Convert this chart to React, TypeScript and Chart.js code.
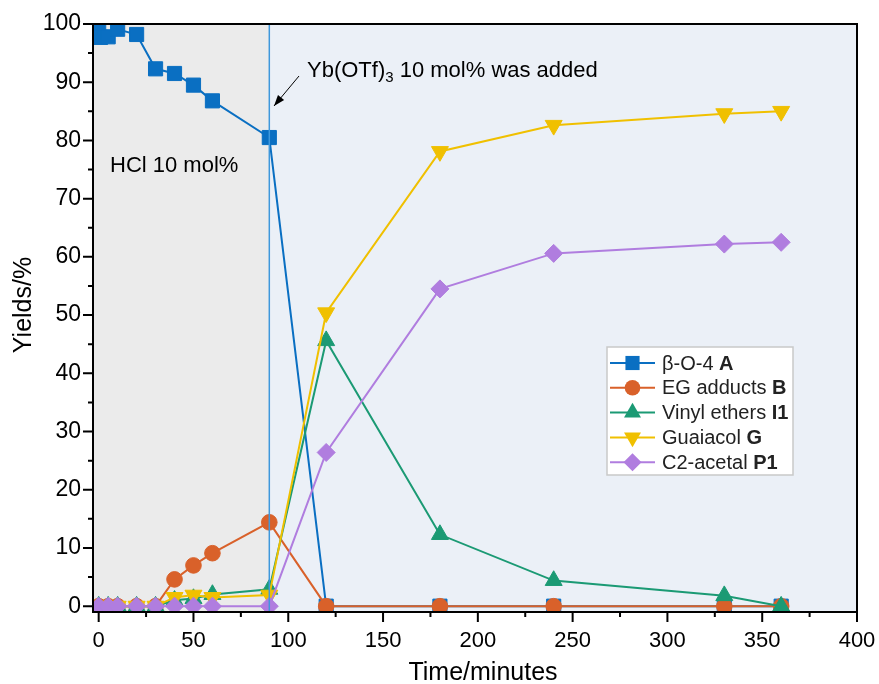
import React, { useEffect, useRef } from 'react';
import { Chart, registerables } from 'chart.js';

Chart.register(...registerables);

// ---- data ----
const timeA = [0, 1, 5, 10, 20, 30, 40, 50, 60, 90, 120, 180, 240, 330, 360];
const yieldA = [99.3, 97.7, 97.8, 99.1, 98.2, 92.3, 91.5, 89.5, 86.8, 80.5, 0, 0, 0, 0, 0];

const timeCommon = [0, 5, 10, 20, 30, 40, 50, 60, 90, 120, 180, 240, 330, 360];
const yieldB = [0, 0, 0, 0, 0, 4.6, 7.0, 9.1, 14.4, 0, 0, 0, 0, 0];
const yieldI1 = [0, 0, 0, 0, 0, 1.0, 1.3, 2.0, 2.9, 45.6, 12.3, 4.4, 1.8, 0];
const yieldG = [0, 0, 0, 0, 0, 1.5, 1.9, 1.5, 1.9, 50.4, 78.1, 82.6, 84.6, 85.0];
const yieldP1 = [0, 0, 0, 0, 0, 0, 0, 0, 0, 26.4, 54.5, 60.6, 62.2, 62.5];

const seriesNames = ['β-O-4', 'EG adducts', 'Vinyl ethers', 'Guaiacol', 'C2-acetal'];
const seriesTags = ['A', 'B', 'I1', 'G', 'P1'];
const seriesColors = ['#0a6fc2', '#d9612a', '#1b9a74', '#f0c000', '#b07ddf'];

const xTickValues = [0, 50, 100, 150, 200, 250, 300, 350, 400];
const yTickValues = [0, 10, 20, 30, 40, 50, 60, 70, 80, 90, 100];
const additionTime = 90;

const FONT = '"Liberation Sans", Arial, Helvetica, sans-serif';

function pts(xs: number[], ys: number[]) {
  return xs.map((x, i) => ({ x, y: ys[i] }));
}

function drawMarker(ctx: CanvasRenderingContext2D, style: string, x: number, y: number, r: number, rot: number) {
  ctx.beginPath();
  if (style === 'rect') {
    const s = r * Math.SQRT1_2;
    ctx.rect(x - s, y - s, 2 * s, 2 * s);
  } else if (style === 'circle') {
    ctx.arc(x, y, r, 0, Math.PI * 2);
  } else if (style === 'triangle') {
    let a = (rot * Math.PI) / 180;
    ctx.moveTo(x + Math.sin(a) * r, y - Math.cos(a) * r);
    a += (2 * Math.PI) / 3;
    ctx.lineTo(x + Math.sin(a) * r, y - Math.cos(a) * r);
    a += (2 * Math.PI) / 3;
    ctx.lineTo(x + Math.sin(a) * r, y - Math.cos(a) * r);
    ctx.closePath();
  } else if (style === 'rectRot') {
    ctx.moveTo(x, y - r);
    ctx.lineTo(x + r, y);
    ctx.lineTo(x, y + r);
    ctx.lineTo(x - r, y);
    ctx.closePath();
  }
  ctx.fill();
}

const decorPlugin = {
  id: 'decor',
  beforeDatasetsDraw(chart: any) {
    const { ctx, chartArea: a, scales } = chart;
    const xs = scales.x;
    const px = xs.getPixelForValue(additionTime);
    ctx.save();
    ctx.fillStyle = '#ebebeb';
    ctx.fillRect(a.left, a.top, px - a.left, a.bottom - a.top);
    ctx.fillStyle = '#ebf0f7';
    ctx.fillRect(px, a.top, a.right - px, a.bottom - a.top);
    ctx.restore();
  },
  afterDatasetsDraw(chart: any) {
    const { ctx, chartArea: a, scales } = chart;
    const xs = scales.x;
    const ys = scales.y;
    const px = xs.getPixelForValue(additionTime);
    ctx.save();
    // vertical line
    ctx.strokeStyle = '#3f98dc';
    ctx.lineWidth = 1.5;
    ctx.beginPath();
    ctx.moveTo(px, a.top);
    ctx.lineTo(px, a.bottom);
    ctx.stroke();

    // frame
    ctx.strokeStyle = '#000';
    ctx.lineWidth = 2;
    ctx.strokeRect(a.left, a.top, a.right - a.left, a.bottom - a.top);

    // ticks
    ctx.beginPath();
    xs.ticks.forEach((t: any) => {
      const p = xs.getPixelForValue(t.value);
      const len = t.value % 50 === 0 ? 10 : 5;
      ctx.moveTo(p, a.bottom);
      ctx.lineTo(p, a.bottom + len);
    });
    ys.ticks.forEach((t: any) => {
      const p = ys.getPixelForValue(t.value);
      const len = t.value % 10 === 0 ? 10 : 5;
      ctx.moveTo(a.left - len, p);
      ctx.lineTo(a.left, p);
    });
    ctx.stroke();

    // axis titles
    ctx.fillStyle = '#000';
    ctx.font = `25px ${FONT}`;
    ctx.textAlign = 'center';
    ctx.textBaseline = 'alphabetic';
    ctx.fillText('Time/minutes', (a.left + a.right) / 2 + 8, 680);
    ctx.save();
    ctx.translate(31, 305);
    ctx.rotate(-Math.PI / 2);
    ctx.fillText('Yields/%', 0, 0);
    ctx.restore();

    // annotations
    ctx.textAlign = 'left';
    ctx.font = `22px ${FONT}`;
    ctx.fillText('HCl 10 mol%', 110, 172);
    let tx = 307;
    const ty = 77;
    ctx.fillText('Yb(OTf)', tx, ty);
    tx += ctx.measureText('Yb(OTf)').width;
    ctx.font = `15px ${FONT}`;
    ctx.fillText('3', tx, ty + 5);
    tx += ctx.measureText('3').width;
    ctx.font = `22px ${FONT}`;
    ctx.fillText(' 10 mol% was added', tx, ty);

    // arrow
    const ax1 = 299, ay1 = 76, ax2 = 274, ay2 = 106;
    ctx.strokeStyle = '#000';
    ctx.lineWidth = 1;
    ctx.beginPath();
    ctx.moveTo(ax1, ay1);
    ctx.lineTo(ax2, ay2);
    ctx.stroke();
    const ang = Math.atan2(ay2 - ay1, ax2 - ax1);
    const hl = 11, hw = 4;
    ctx.beginPath();
    ctx.moveTo(ax2, ay2);
    ctx.lineTo(ax2 - hl * Math.cos(ang) + hw * Math.sin(ang), ay2 - hl * Math.sin(ang) - hw * Math.cos(ang));
    ctx.lineTo(ax2 - hl * Math.cos(ang) - hw * Math.sin(ang), ay2 - hl * Math.sin(ang) + hw * Math.cos(ang));
    ctx.closePath();
    ctx.fillStyle = '#000';
    ctx.fill();

    // legend
    const bx = 607, by = 347, bw = 186, bh = 128;
    ctx.fillStyle = '#ffffff';
    ctx.fillRect(bx, by, bw, bh);
    ctx.strokeStyle = '#c9c9c9';
    ctx.lineWidth = 1.5;
    ctx.strokeRect(bx, by, bw, bh);
    const dsets = chart.data.datasets;
    dsets.forEach((ds: any, i: number) => {
      const ry = by + 16 + i * 24.8;
      ctx.strokeStyle = ds.borderColor;
      ctx.lineWidth = 2;
      ctx.beginPath();
      ctx.moveTo(bx + 3, ry);
      ctx.lineTo(bx + 48, ry);
      ctx.stroke();
      ctx.fillStyle = ds.borderColor;
      drawMarker(ctx, ds.pointStyle, bx + 25.5, ry, ds.pointRadius, ds.pointRotation || 0);
      ctx.fillStyle = '#222';
      ctx.textBaseline = 'middle';
      ctx.font = `20px ${FONT}`;
      const name = seriesNames[i] + ' ';
      ctx.fillText(name, bx + 55, ry + 1);
      const w = ctx.measureText(name).width;
      ctx.font = `bold 20px ${FONT}`;
      ctx.fillText(seriesTags[i], bx + 55 + w, ry + 1);
    });
    ctx.restore();
  },
};

export default function App() {
  const ref = useRef<HTMLCanvasElement | null>(null);

  useEffect(() => {
    if (!ref.current) return;
    const styles = ['rect', 'circle', 'triangle', 'triangle', 'rectRot'];
    const radii = [10, 7.8, 9.8, 9.8, 9];
    const rotations = [0, 0, 0, 180, 0];
    const dataArr = [
      pts(timeA, yieldA),
      pts(timeCommon, yieldB),
      pts(timeCommon, yieldI1),
      pts(timeCommon, yieldG),
      pts(timeCommon, yieldP1),
    ];
    const datasets = dataArr.map((d, i) => ({
      label: `${seriesNames[i]} ${seriesTags[i]}`,
      data: d,
      borderColor: seriesColors[i],
      backgroundColor: seriesColors[i],
      pointBackgroundColor: seriesColors[i],
      pointBorderColor: seriesColors[i],
      pointBorderWidth: 1,
      pointStyle: styles[i],
      pointRadius: radii[i],
      pointHoverRadius: radii[i],
      pointRotation: rotations[i],
      borderWidth: 2,
      tension: 0,
      fill: false,
      order: 5 - i,
    }));

    const chart = new Chart(ref.current, {
      type: 'line',
      data: { datasets },
      plugins: [decorPlugin],
      options: {
        animation: false,
        responsive: false,
        layout: { padding: { top: 24, right: 22, left: 0, bottom: 0 } },
        plugins: {
          legend: { display: false },
          tooltip: { enabled: false },
          title: { display: false },
        },
        scales: {
          x: {
            type: 'linear',
            min: -3,
            max: 400,
            afterFit: (s: any) => {
              s.height = 72;
              s.paddingRight = 0;
              s.paddingLeft = 0;
            },
            ticks: {
              stepSize: 25,
              includeBounds: false,
              autoSkip: false,
              maxRotation: 0,
              padding: 6,
              color: '#000',
              font: { family: FONT, size: 22 },
              callback: (v: any) => (xTickValues.includes(Number(v)) ? String(v) : ''),
            },
            grid: { drawOnChartArea: false, drawTicks: true, tickLength: 10, color: 'rgba(0,0,0,0)' },
            border: { display: false },
          },
          y: {
            type: 'linear',
            min: -1,
            max: 100,
            afterFit: (s: any) => {
              s.width = 93;
              s.paddingTop = 0;
              s.paddingBottom = 0;
            },
            ticks: {
              stepSize: 5,
              includeBounds: false,
              autoSkip: false,
              padding: 2,
              color: '#000',
              font: { family: FONT, size: 23 },
              callback: (v: any) => (yTickValues.includes(Number(v)) ? String(v) : ''),
            },
            grid: { drawOnChartArea: false, drawTicks: true, tickLength: 10, color: 'rgba(0,0,0,0)' },
            border: { display: false },
          },
        },
      },
    });
    return () => chart.destroy();
  }, []);

  return (
    <div style={{ position: 'absolute', left: 0, top: 0, width: 879, height: 684, background: '#fff' }}>
      <canvas ref={ref} width={879} height={684} style={{ display: 'block', width: 879, height: 684 }} />
    </div>
  );
}
